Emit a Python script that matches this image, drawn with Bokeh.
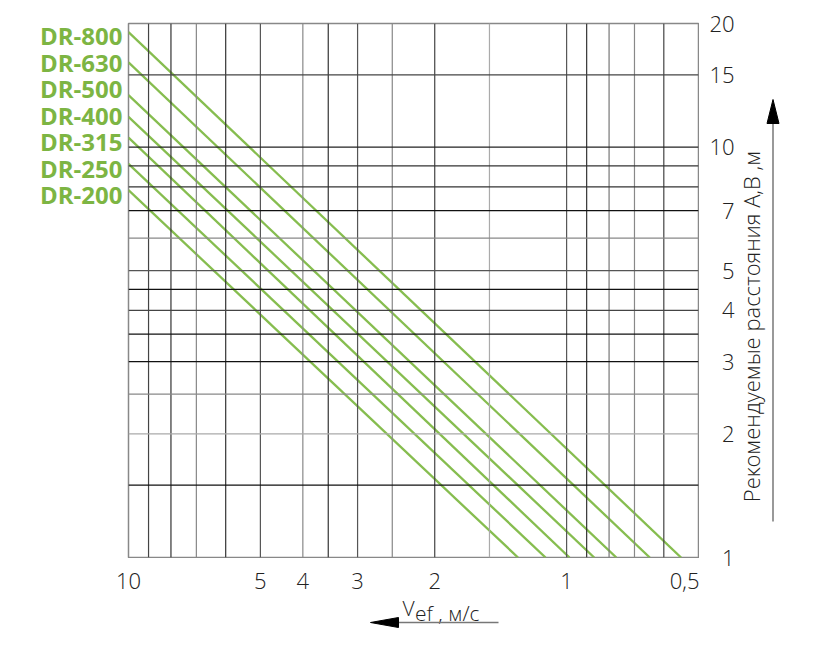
from bokeh.plotting import figure
from bokeh.layouts import row, column
from bokeh.models import Range1d, FixedTicker, Span, LinearAxis, LinearScale
from bokeh.embed import file_html
from bokeh.resources import INLINE
import math

# ---- data ----
series = ["DR-800", "DR-630", "DR-500", "DR-400", "DR-315", "DR-250", "DR-200"]
dist_at_v10 = [19.05, 16.08, 13.39, 11.85, 10.54, 9.10, 7.85]   # distance (m) at Vef = 10 m/s
v_at_dist1 = [0.548, 0.646, 0.770, 0.865, 0.985, 1.117, 1.291]  # Vef (m/s) at distance 1 m

x_ticks = [10, 5, 4, 3, 2, 1, 0.5]
x_tick_labels = ["10", "5", "4", "3", "2", "1", "0,5"]
y_ticks = [1, 2, 3, 4, 5, 7, 10, 15, 20]
y_tick_labels = ["1", "2", "3", "4", "5", "7", "10", "15", "20"]

x_grid = [9, 8, 7, 6, 5, 4, 3.5, 3, 2.5, 2, 1.5, 1, 0.9, 0.8, 0.7, 0.6]
y_grid = [1.5, 2, 2.5, 3, 3.5, 4, 4.5, 5, 6, 7, 8, 9, 10, 15]

x_title_main = "V"
x_title_sub = "ef , м/с"
y_title = "Рекомендуемые расстояния A,B ,м"

# ---- styles ----
x_grid_colors = ["#444", "#333", "#888", "#333", "#555", "#888", "#333", "#555",
                 "#888", "#444", "#aaa", "#555", "#333", "#777", "#888", "#444"]
y_grid_colors = ["#111", "#aaa", "#888", "#111", "#111", "#444", "#111", "#555",
                 "#888", "#111", "#333", "#333", "#222", "#444"]
GREEN_TEXT = "#7db543"
GREEN_LINE = "#86bd4f"
FONT = "Open Sans"
LIGHT = "Open Sans Light"

# layout geometry (pixels)
FRAME_L, FRAME_R, FRAME_T, FRAME_B = 128, 698, 23, 557
LEFT_W = FRAME_R + 1          # main + bottom column width
RIGHT_W = 816 - LEFT_W
TOP_H = FRAME_B + 1
BOT_H = 655 - TOP_H
BOT_FRAME_T = 585
RIGHT_FRAME_L = 738
NAME_Y = [35 + i * 26.5 for i in range(len(series))]   # vertical slots of the series names


def strip_axis(ax):
    ax.axis_line_color = None
    ax.major_tick_line_color = None
    ax.minor_tick_line_color = None
    ax.major_tick_out = 0
    ax.major_tick_in = 0
    ax.minor_tick_out = 0
    ax.minor_tick_in = 0


x_rng = Range1d(10, 0.5)
y_rng = Range1d(1, 20)

# ---- main chart ----
p = figure(width=LEFT_W, height=TOP_H, x_axis_type="log", y_axis_type="log",
           x_range=x_rng, y_range=y_rng,
           x_axis_location=None, y_axis_location=None,
           output_backend="svg", toolbar_location=None,
           min_border_left=FRAME_L, min_border_right=LEFT_W - FRAME_R,
           min_border_top=FRAME_T, min_border_bottom=1)
p.xgrid.visible = False
p.ygrid.visible = False
p.outline_line_color = "#888"
p.outline_line_width = 1.5

for v, c in zip(x_grid, x_grid_colors):
    p.add_layout(Span(location=v, dimension="height", line_color=c, line_width=1.2))
for v, c in zip(y_grid, y_grid_colors):
    p.add_layout(Span(location=v, dimension="width", line_color=c, line_width=1.2))

for name, d10, v1 in zip(series, dist_at_v10, v_at_dist1):
    p.line(x=[10, v1], y=[d10, 1], line_color=GREEN_LINE, line_width=2.3)

# series names as a left axis on a linear pixel-slot range
p.extra_y_ranges = {"names": Range1d(FRAME_B, FRAME_T)}
p.extra_y_scales = {"names": LinearScale()}
na = LinearAxis(y_range_name="names", ticker=FixedTicker(ticks=NAME_Y),
                major_label_overrides={float(y): n for y, n in zip(NAME_Y, series)})
p.add_layout(na, "left")
strip_axis(na)
na.major_label_text_font = FONT
na.major_label_text_font_style = "bold"
na.major_label_text_font_size = "24px"
na.major_label_text_color = GREEN_TEXT
na.major_label_standoff = 6

# ---- bottom panel: x tick labels (axis above), x title + arrow ----
b = figure(width=LEFT_W, height=BOT_H, x_axis_type="log", x_range=x_rng,
           y_range=Range1d(655, BOT_FRAME_T), x_axis_location="above",
           y_axis_location=None, output_backend="svg", toolbar_location=None,
           min_border_left=FRAME_L, min_border_right=LEFT_W - FRAME_R,
           min_border_top=BOT_FRAME_T - TOP_H, min_border_bottom=0,
           outline_line_color=None)
b.xgrid.visible = False
b.ygrid.visible = False
xa = b.xaxis[0]
xa.ticker = FixedTicker(ticks=x_ticks)
xa.major_label_overrides = {float(t): l for t, l in zip(x_ticks, x_tick_labels)}
strip_axis(xa)
xa.major_label_text_font = LIGHT
xa.major_label_text_font_size = "22px"
xa.major_label_text_color = "#222"
xa.major_label_standoff = -3

b.extra_x_ranges = {"px": Range1d(FRAME_L, FRAME_R)}
b.extra_x_scales = {"px": LinearScale()}
b.text(x=[402], y=[607], text=[x_title_main], x_range_name="px", text_align="left",
       text_baseline="alphabetic", text_font={"value": LIGHT},
       text_font_size="21px", text_color="#222")
b.text(x=[414.5], y=[612.5], text=[x_title_sub], x_range_name="px", text_align="left",
       text_baseline="alphabetic", text_font={"value": LIGHT},
       text_font_size="21px", text_color="#222")
b.segment(x0=[498], y0=[622], x1=[392], y1=[622], x_range_name="px",
          line_color="#777", line_width=1.5)
b.patch(x=[370, 398, 398], y=[622, 617, 627], x_range_name="px",
        fill_color="black", line_color="black")

# ---- right panel (full height): y tick labels, y title + arrow ----
r = figure(width=RIGHT_W, height=655, y_axis_type="log", y_range=y_rng,
           x_range=Range1d(RIGHT_FRAME_L, 816), x_axis_location=None,
           y_axis_location="left", output_backend="svg", toolbar_location=None,
           min_border_left=RIGHT_FRAME_L - LEFT_W, min_border_right=0,
           min_border_top=FRAME_T, min_border_bottom=655 - FRAME_B,
           outline_line_color=None)
r.xgrid.visible = False
r.ygrid.visible = False
ya = r.yaxis[0]
ya.ticker = FixedTicker(ticks=y_ticks)
ya.major_label_overrides = {float(t): l for t, l in zip(y_ticks, y_tick_labels)}
strip_axis(ya)
ya.major_label_text_font = LIGHT
ya.major_label_text_font_size = "22px"
ya.major_label_text_color = "#222"
ya.major_label_standoff = 4

r.extra_y_ranges = {"py": Range1d(FRAME_B, FRAME_T)}
r.extra_y_scales = {"py": LinearScale()}
r.text(x=[750], y=[326], y_range_name="py", text=[y_title], angle=math.pi / 2,
       text_align="center", text_baseline="middle",
       text_font={"value": LIGHT}, text_font_size="22px", text_color="#222")
r.segment(x0=[772.5], y0=[521], x1=[772.5], y1=[118], y_range_name="py",
          line_color="#777", line_width=1.5)
r.patch(x=[772.5, 766.5, 778.5], y=[99, 123, 123], y_range_name="py",
        fill_color="black", line_color="black")

layout = row(column(p, b, spacing=0), r, spacing=0)
open("out.html", "w").write(file_html(layout, INLINE))
